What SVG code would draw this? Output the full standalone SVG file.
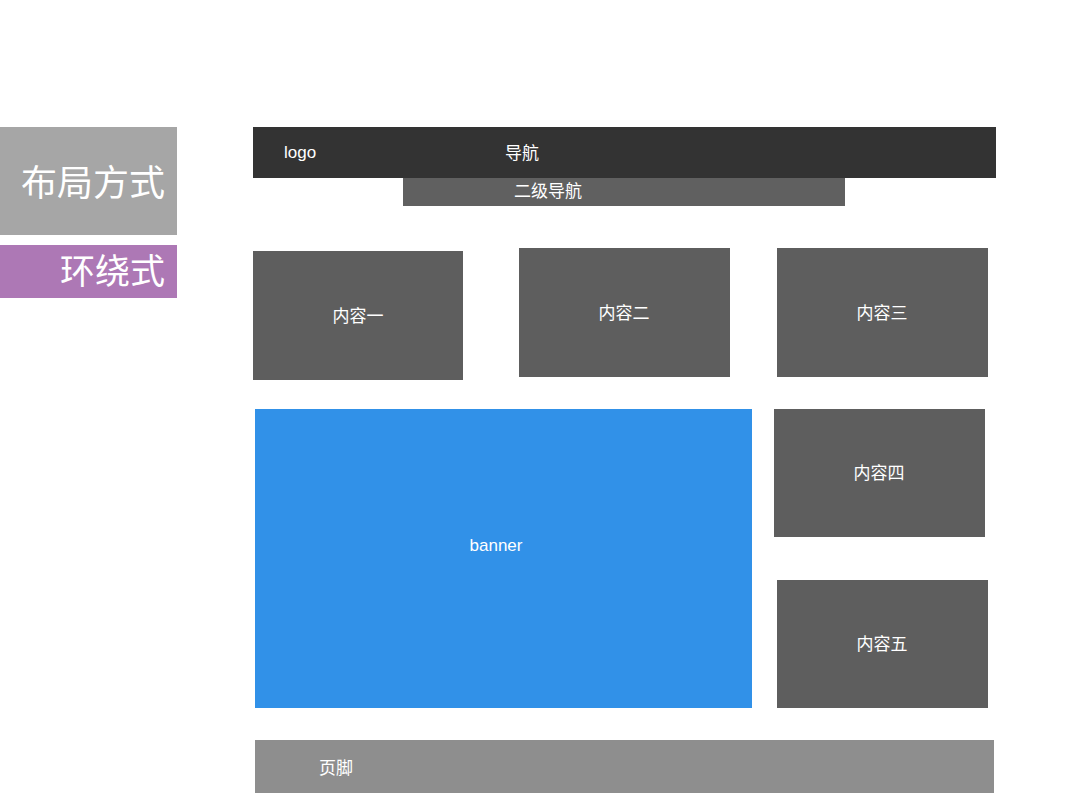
<svg xmlns="http://www.w3.org/2000/svg" width="1080" height="810" viewBox="0 0 1080 810">
<style>
text{font-family:"Liberation Sans","Noto Sans CJK SC",sans-serif;fill:#ffffff}
.box{fill:#5e5e5e}
.lbl{font-size:17px;text-anchor:middle;dominant-baseline:central}
.title{text-anchor:end}
</style>
<rect width="1080" height="810" fill="#ffffff"/>
<g id="title">
<rect x="0" y="127" width="177" height="108" fill="#a6a6a6"/>
<text class="title" x="165" y="196" font-size="36">布局方式</text>
</g>
<g id="subtitle">
<rect x="0" y="245" width="177" height="53" fill="#ad78b5"/>
<text class="title" x="165" y="284" font-size="35">环绕式</text>
</g>
<g id="header">
<rect x="253" y="127" width="743" height="51" fill="#333333"/>
<text x="284" y="152" font-size="17" dominant-baseline="central">logo</text>
<text x="505" y="153" font-size="17" dominant-baseline="central">导航</text>
</g>
<g id="subnav">
<rect x="403" y="178" width="442" height="28" fill="#606060"/>
<text x="548" y="191" class="lbl">二级导航</text>
</g>
<g id="content1">
<rect class="box" x="253" y="251" width="210" height="129"/>
<text class="lbl" x="358" y="316">内容一</text>
</g>
<g id="content2">
<rect class="box" x="519" y="248" width="211" height="129"/>
<text class="lbl" x="624" y="313">内容二</text>
</g>
<g id="content3">
<rect class="box" x="777" y="248" width="211" height="129"/>
<text class="lbl" x="882" y="313">内容三</text>
</g>
<g id="banner">
<rect x="255" y="409" width="497" height="299" fill="#3191e8"/>
<text class="lbl" x="496" y="545">banner</text>
</g>
<g id="content4">
<rect class="box" x="774" y="409" width="211" height="128"/>
<text class="lbl" x="879" y="473">内容四</text>
</g>
<g id="content5">
<rect class="box" x="777" y="580" width="211" height="128"/>
<text class="lbl" x="882" y="644">内容五</text>
</g>
<g id="footer">
<rect x="255" y="740" width="739" height="53" fill="#8e8e8e"/>
<text x="319" y="768" font-size="17" dominant-baseline="central">页脚</text>
</g>
<g id="connectors"></g>
</svg>
